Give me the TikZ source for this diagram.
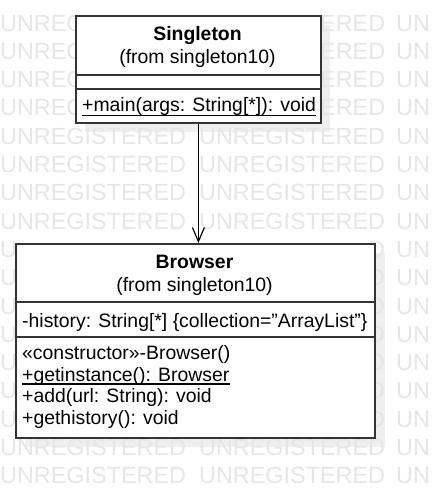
\documentclass[tikz,border=0pt]{standalone}
\usepackage{fontspec}
\setmainfont{Liberation Sans}
\usetikzlibrary{arrows.meta}
\definecolor{wmgray}{HTML}{E6E6E6}
\definecolor{shadowgray}{HTML}{EFEFEF}
\definecolor{boxline}{HTML}{333333}
\begin{document}
\begin{tikzpicture}[x=1pt,y=-1pt,
  wm/.style={text=wmgray, font=\fontsize{23.4pt}{24pt}\selectfont, anchor=base west, inner sep=0pt},
  umlbox/.style={draw=boxline, line width=1.8pt, fill=white, anchor=north west, inner sep=0pt},
  sepline/.style={draw=boxline, line width=1.8pt},
  shadowbox/.style={fill=shadowgray},
  txt/.style={font=\fontsize{19.4pt}{22pt}\selectfont, inner sep=0pt, anchor=base west},
  ttl/.style={font=\fontsize{19.4pt}{22pt}\selectfont\bfseries, inner sep=0pt, anchor=base},
  sub/.style={font=\fontsize{19.4pt}{22pt}\selectfont, inner sep=0pt, anchor=base},
  uline/.style={draw=black, line width=1.2pt},
  assoc/.style={draw=black, line width=1.2pt, -{Straight Barb[length=14pt,width=12pt,line width=1.2pt]}}
]
\useasboundingbox (0,0) rectangle (433,498);
% shadows
\fill[shadowbox] (85,25) rectangle (330,132);
\fill[shadowbox] (25,253) rectangle (385,447);
% watermark: rows beside the Singleton box
\foreach \k in {0,...,3} {
  \pgfmathsetmacro\yy{31+28.3*\k}
  \node[wm] (wa\k) at (0,\yy) {UNREG};
  \node[wm] (wb\k) at (320,\yy) {ERED};
  \node[wm] (wc\k) at (396,\yy) {UN};
}
% full rows between the boxes and below
\foreach \k in {4,...,7,15,16} {
  \pgfmathsetmacro\yy{31+28.3*\k}
  \node[wm] (wa\k) at (0,\yy) {UNREGISTERED};
  \node[wm] (wb\k) at (199,\yy) {UNREGISTERED};
  \node[wm] (wc\k) at (396,\yy) {UN};
}
% rows beside the Browser box
\foreach \k in {8,...,14} {
  \pgfmathsetmacro\yy{31+28.3*\k}
  \node[wm] (wa\k) at (0,\yy) {U};
  \node[wm] (wb\k) at (368,\yy) {D};
  \node[wm] (wc\k) at (396,\yy) {UN};
}
% Singleton class
\node[umlbox, minimum width=245pt, minimum height=107pt] (singleton) at (75,15) {};
\draw[sepline] ([yshift=-60pt]singleton.north west) -- ([yshift=-60pt]singleton.north east);
\draw[sepline] ([yshift=-74pt]singleton.north west) -- ([yshift=-74pt]singleton.north east);
\node[ttl] (sname) at (197.5,40) {Singleton};
\node[sub] (sfrom) at (197.5,63.5) {(from singleton10)};
\node[txt] (smain) at (82,111) {+main(args: String[*]): void};
\draw[uline] ([yshift=-4.5pt]smain.base west) -- ([yshift=-4.5pt]smain.base east);
% Browser class
\node[umlbox, minimum width=359pt, minimum height=194pt] (browser) at (15,243) {};
\draw[sepline] ([yshift=-59pt]browser.north west) -- ([yshift=-59pt]browser.north east);
\draw[sepline] ([yshift=-94pt]browser.north west) -- ([yshift=-94pt]browser.north east);
\node[ttl] (bname) at (194.5,268) {Browser};
\node[sub] (bfrom) at (194.5,291) {(from singleton10)};
\node[txt] (battr) at (22,327) {-history: String[*] \{collection="ArrayList"\}};
\node[txt] (bm1) at (22,359.5) {«constructor»-Browser()};
\node[txt] (bm2) at (22,381) {+getinstance(): Browser};
\draw[uline] ([yshift=-3pt]bm2.base west) -- ([yshift=-3pt]bm2.base east);
\node[txt] (bm3) at (22,402.5) {+add(url: String): void};
\node[txt] (bm4) at (22,424) {+gethistory(): void};
% association
\draw[assoc] (singleton.south) -- (singleton.south |- browser.north);
\end{tikzpicture}
\end{document}
